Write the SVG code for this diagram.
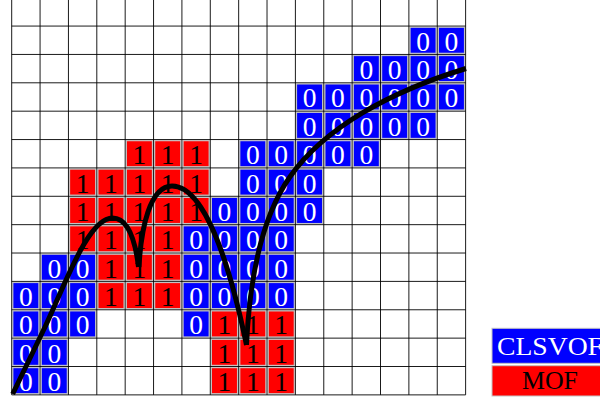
<svg xmlns="http://www.w3.org/2000/svg" xmlns:xlink="http://www.w3.org/1999/xlink" width="600" height="400" viewBox="0 0 600 400">
<style>
.bf{fill:#0000ff;stroke:#c4c4c4;stroke-width:1}
.rf{fill:#ff0000;stroke:#c4c4c4;stroke-width:1}
.d{font-family:"Liberation Serif","Times New Roman",serif;font-size:27.5px;text-anchor:middle}
.w{fill:#ffffff}
.k{fill:#000000}
.grid{fill:none;stroke:#000;stroke-width:0.9}
.curve{fill:none;stroke:#000;stroke-width:5;stroke-linecap:butt;stroke-linejoin:round}
.lg{font-family:"Liberation Serif","Times New Roman",serif;font-size:25.5px;text-anchor:middle}
</style>
<defs>
<g id="zero"><rect x="1.2" y="1.2" width="25.97" height="25.97" class="bf"/><text x="14.19" y="24.6" class="d w">0</text></g>
<g id="one"><rect x="1.2" y="1.2" width="25.97" height="25.97" class="rf"/><text x="14.19" y="24.6" class="d k">1</text></g>
</defs>
<rect width="600" height="400" fill="#ffffff"/>
<g id="cells">
<g id="r1c14" transform="translate(408.88,26.07)"><use xlink:href="#zero"/></g>
<g id="r1c15" transform="translate(437.25,26.07)"><use xlink:href="#zero"/></g>
<g id="r2c12" transform="translate(352.14,54.44)"><use xlink:href="#zero"/></g>
<g id="r2c13" transform="translate(380.51,54.44)"><use xlink:href="#zero"/></g>
<g id="r2c14" transform="translate(408.88,54.44)"><use xlink:href="#zero"/></g>
<g id="r2c15" transform="translate(437.25,54.44)"><use xlink:href="#zero"/></g>
<g id="r3c10" transform="translate(295.4,82.81)"><use xlink:href="#zero"/></g>
<g id="r3c11" transform="translate(323.77,82.81)"><use xlink:href="#zero"/></g>
<g id="r3c12" transform="translate(352.14,82.81)"><use xlink:href="#zero"/></g>
<g id="r3c13" transform="translate(380.51,82.81)"><use xlink:href="#zero"/></g>
<g id="r3c14" transform="translate(408.88,82.81)"><use xlink:href="#zero"/></g>
<g id="r3c15" transform="translate(437.25,82.81)"><use xlink:href="#zero"/></g>
<g id="r4c10" transform="translate(295.4,111.18)"><use xlink:href="#zero"/></g>
<g id="r4c11" transform="translate(323.77,111.18)"><use xlink:href="#zero"/></g>
<g id="r4c12" transform="translate(352.14,111.18)"><use xlink:href="#zero"/></g>
<g id="r4c13" transform="translate(380.51,111.18)"><use xlink:href="#zero"/></g>
<g id="r4c14" transform="translate(408.88,111.18)"><use xlink:href="#zero"/></g>
<g id="r5c4" transform="translate(125.18,139.55)"><use xlink:href="#one"/></g>
<g id="r5c5" transform="translate(153.55,139.55)"><use xlink:href="#one"/></g>
<g id="r5c6" transform="translate(181.92,139.55)"><use xlink:href="#one"/></g>
<g id="r5c8" transform="translate(238.66,139.55)"><use xlink:href="#zero"/></g>
<g id="r5c9" transform="translate(267.03,139.55)"><use xlink:href="#zero"/></g>
<g id="r5c10" transform="translate(295.4,139.55)"><use xlink:href="#zero"/></g>
<g id="r5c11" transform="translate(323.77,139.55)"><use xlink:href="#zero"/></g>
<g id="r5c12" transform="translate(352.14,139.55)"><use xlink:href="#zero"/></g>
<g id="r6c2" transform="translate(68.44,167.92)"><use xlink:href="#one"/></g>
<g id="r6c3" transform="translate(96.81,167.92)"><use xlink:href="#one"/></g>
<g id="r6c4" transform="translate(125.18,167.92)"><use xlink:href="#one"/></g>
<g id="r6c5" transform="translate(153.55,167.92)"><use xlink:href="#one"/></g>
<g id="r6c6" transform="translate(181.92,167.92)"><use xlink:href="#one"/></g>
<g id="r6c8" transform="translate(238.66,167.92)"><use xlink:href="#zero"/></g>
<g id="r6c9" transform="translate(267.03,167.92)"><use xlink:href="#zero"/></g>
<g id="r6c10" transform="translate(295.4,167.92)"><use xlink:href="#zero"/></g>
<g id="r7c2" transform="translate(68.44,196.29)"><use xlink:href="#one"/></g>
<g id="r7c3" transform="translate(96.81,196.29)"><use xlink:href="#one"/></g>
<g id="r7c4" transform="translate(125.18,196.29)"><use xlink:href="#one"/></g>
<g id="r7c5" transform="translate(153.55,196.29)"><use xlink:href="#one"/></g>
<g id="r7c6" transform="translate(181.92,196.29)"><use xlink:href="#one"/></g>
<g id="r7c7" transform="translate(210.29,196.29)"><use xlink:href="#zero"/></g>
<g id="r7c8" transform="translate(238.66,196.29)"><use xlink:href="#zero"/></g>
<g id="r7c9" transform="translate(267.03,196.29)"><use xlink:href="#zero"/></g>
<g id="r7c10" transform="translate(295.4,196.29)"><use xlink:href="#zero"/></g>
<g id="r8c2" transform="translate(68.44,224.66)"><use xlink:href="#one"/></g>
<g id="r8c3" transform="translate(96.81,224.66)"><use xlink:href="#one"/></g>
<g id="r8c4" transform="translate(125.18,224.66)"><use xlink:href="#one"/></g>
<g id="r8c5" transform="translate(153.55,224.66)"><use xlink:href="#one"/></g>
<g id="r8c6" transform="translate(181.92,224.66)"><use xlink:href="#zero"/></g>
<g id="r8c7" transform="translate(210.29,224.66)"><use xlink:href="#zero"/></g>
<g id="r8c8" transform="translate(238.66,224.66)"><use xlink:href="#zero"/></g>
<g id="r8c9" transform="translate(267.03,224.66)"><use xlink:href="#zero"/></g>
<g id="r9c1" transform="translate(40.07,253.03)"><use xlink:href="#zero"/></g>
<g id="r9c2" transform="translate(68.44,253.03)"><use xlink:href="#zero"/></g>
<g id="r9c3" transform="translate(96.81,253.03)"><use xlink:href="#one"/></g>
<g id="r9c4" transform="translate(125.18,253.03)"><use xlink:href="#one"/></g>
<g id="r9c5" transform="translate(153.55,253.03)"><use xlink:href="#one"/></g>
<g id="r9c6" transform="translate(181.92,253.03)"><use xlink:href="#zero"/></g>
<g id="r9c7" transform="translate(210.29,253.03)"><use xlink:href="#zero"/></g>
<g id="r9c8" transform="translate(238.66,253.03)"><use xlink:href="#zero"/></g>
<g id="r9c9" transform="translate(267.03,253.03)"><use xlink:href="#zero"/></g>
<g id="r10c0" transform="translate(11.7,281.4)"><use xlink:href="#zero"/></g>
<g id="r10c1" transform="translate(40.07,281.4)"><use xlink:href="#zero"/></g>
<g id="r10c2" transform="translate(68.44,281.4)"><use xlink:href="#zero"/></g>
<g id="r10c3" transform="translate(96.81,281.4)"><use xlink:href="#one"/></g>
<g id="r10c4" transform="translate(125.18,281.4)"><use xlink:href="#one"/></g>
<g id="r10c5" transform="translate(153.55,281.4)"><use xlink:href="#one"/></g>
<g id="r10c6" transform="translate(181.92,281.4)"><use xlink:href="#zero"/></g>
<g id="r10c7" transform="translate(210.29,281.4)"><use xlink:href="#zero"/></g>
<g id="r10c8" transform="translate(238.66,281.4)"><use xlink:href="#zero"/></g>
<g id="r10c9" transform="translate(267.03,281.4)"><use xlink:href="#zero"/></g>
<g id="r11c0" transform="translate(11.7,309.77)"><use xlink:href="#zero"/></g>
<g id="r11c1" transform="translate(40.07,309.77)"><use xlink:href="#zero"/></g>
<g id="r11c2" transform="translate(68.44,309.77)"><use xlink:href="#zero"/></g>
<g id="r11c6" transform="translate(181.92,309.77)"><use xlink:href="#zero"/></g>
<g id="r11c7" transform="translate(210.29,309.77)"><use xlink:href="#one"/></g>
<g id="r11c8" transform="translate(238.66,309.77)"><use xlink:href="#one"/></g>
<g id="r11c9" transform="translate(267.03,309.77)"><use xlink:href="#one"/></g>
<g id="r12c0" transform="translate(11.7,338.14)"><use xlink:href="#zero"/></g>
<g id="r12c1" transform="translate(40.07,338.14)"><use xlink:href="#zero"/></g>
<g id="r12c7" transform="translate(210.29,338.14)"><use xlink:href="#one"/></g>
<g id="r12c8" transform="translate(238.66,338.14)"><use xlink:href="#one"/></g>
<g id="r12c9" transform="translate(267.03,338.14)"><use xlink:href="#one"/></g>
<g id="r13c0" transform="translate(11.7,366.51)"><use xlink:href="#zero"/></g>
<g id="r13c1" transform="translate(40.07,366.51)"><use xlink:href="#zero"/></g>
<g id="r13c7" transform="translate(210.29,366.51)"><use xlink:href="#one"/></g>
<g id="r13c8" transform="translate(238.66,366.51)"><use xlink:href="#one"/></g>
<g id="r13c9" transform="translate(267.03,366.51)"><use xlink:href="#one"/></g>
</g>
<g id="grid">
<path class="grid" d="M11.7,-2.3V394.88M40.07,-2.3V394.88M68.44,-2.3V394.88M96.81,-2.3V394.88M125.18,-2.3V394.88M153.55,-2.3V394.88M181.92,-2.3V394.88M210.29,-2.3V394.88M238.66,-2.3V394.88M267.03,-2.3V394.88M295.4,-2.3V394.88M323.77,-2.3V394.88M352.14,-2.3V394.88M380.51,-2.3V394.88M408.88,-2.3V394.88M437.25,-2.3V394.88M465.62,-2.3V394.88M11.7,26.07H465.62M11.7,54.44H465.62M11.7,82.81H465.62M11.7,111.18H465.62M11.7,139.55H465.62M11.7,167.92H465.62M11.7,196.29H465.62M11.7,224.66H465.62M11.7,253.03H465.62M11.7,281.4H465.62M11.7,309.77H465.62M11.7,338.14H465.62M11.7,366.51H465.62M11.7,394.88H465.62"/>
</g>
<g id="connectors">
<path class="curve" d="M12.7,394 L45,327 C65,285 88,218 112.5,218 C127,218 135,238 138.5,267"/>
<path class="curve" d="M139,267 C141,228 150,186 172,186 C205,186 230,266 246.5,345"/>
<path class="curve" d="M246.5,345 C250,270 265,212 290,176.7 C324.7,127.7 389.7,91.8 466,68.5"/>
</g>
<g id="legend-clsvof">
<rect x="492" y="328.3" width="116" height="35" class="bf"/>
<text x="550" y="355" class="lg w" textLength="106" lengthAdjust="spacingAndGlyphs">CLSVOF</text>
</g>
<g id="legend-mof">
<rect x="492" y="365.7" width="116" height="30.3" class="rf"/>
<text x="550" y="388.5" class="lg k" textLength="56" lengthAdjust="spacingAndGlyphs">MOF</text>
</g>
</svg>
